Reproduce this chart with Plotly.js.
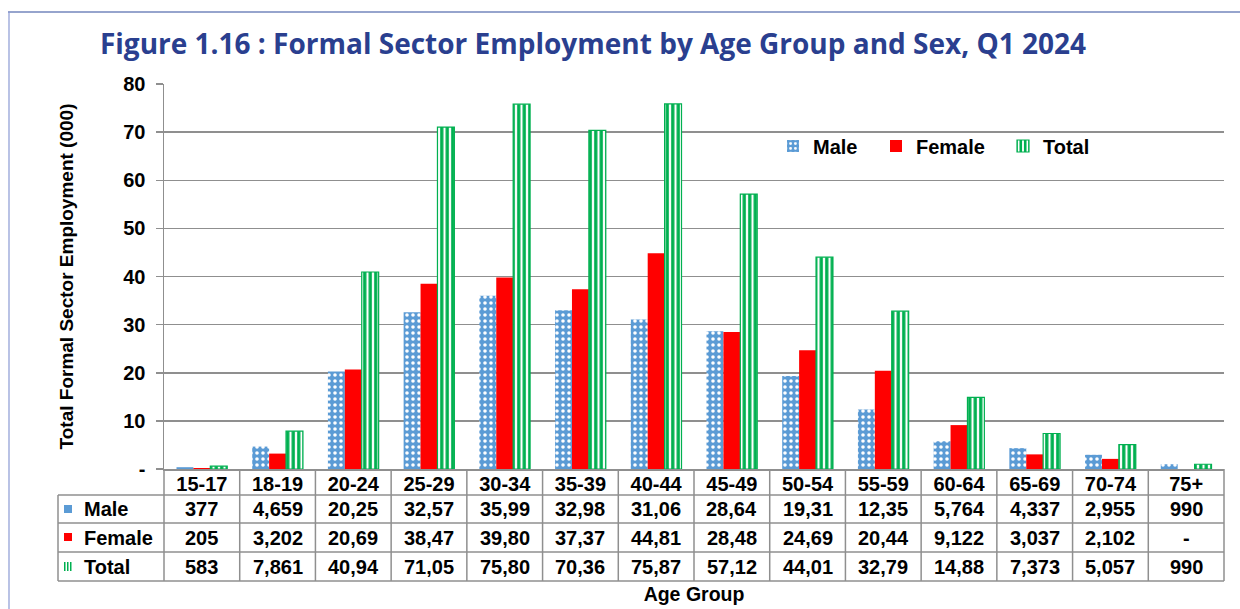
<!DOCTYPE html>
<html>
<head>
<meta charset="utf-8">
<script src="https://cdn.plot.ly/plotly-3.0.1.min.js"></script>
<style>html,body{margin:0;padding:0;background:#fff;}#chart{width:1240px;height:609px;}</style>
</head>
<body>
<div id="chart"></div>
<script>
// ---- data (thousands) ----
const ageGroups = ["15-17","18-19","20-24","25-29","30-34","35-39","40-44","45-49","50-54","55-59","60-64","65-69","70-74","75+"];
const maleValues   = [0.377, 4.659, 20.25, 32.57, 35.99, 32.98, 31.06, 28.64, 19.31, 12.35, 5.764, 4.337, 2.955, 0.990];
const femaleValues = [0.205, 3.202, 20.69, 38.47, 39.80, 37.37, 44.81, 28.48, 24.69, 20.44, 9.122, 3.037, 2.102, 0];
const totalValues  = [0.583, 7.861, 40.94, 71.05, 75.80, 70.36, 75.87, 57.12, 44.01, 32.79, 14.88, 7.373, 5.057, 0.990];
// ---- data table labels as printed ----
const maleLabels   = ["377","4,659","20,25","32,57","35,99","32,98","31,06","28,64","19,31","12,35","5,764","4,337","2,955","990"];
const femaleLabels = ["205","3,202","20,69","38,47","39,80","37,37","44,81","28,48","24,69","20,44","9,122","3,037","2,102","-"];
const totalLabels  = ["583","7,861","40,94","71,05","75,80","70,36","75,87","57,12","44,01","32,79","14,88","7,373","5,057","990"];
const seriesNames = ["Male","Female","Total"];
const yTickVals = [0,10,20,30,40,50,60,70,80];
const yTickText = ["-","10","20","30","40","50","60","70","80"];

// ---- geometry helpers (pixel -> paper) ----
const W = 1240, H = 609;
const L = 164, R = 1224, T = 84, B = 469;
const px = x => (x - L) / (R - L);
const py = y => (B - y) / (B - T);

const FONT = "Liberation Sans, Arial, Helvetica, sans-serif";
const GRID = "#8f8f8f";
const BLUE = "#5b9bd5", RED = "#ff0000", GREEN = "#00b050";
const xIdx = ageGroups.map((_, i) => i);
const TXT = 20;

const traces = [
  {type:"bar", name:seriesNames[0], x:xIdx, y:maleValues, legend:"legend",
   marker:{color:BLUE, line:{width:0}, pattern:{shape:".", fgcolor:"#ffffff", bgcolor:BLUE, size:6, solidity:0.28, fillmode:"replace"}},
   hovertemplate:"%{y}<extra>Male</extra>"},
  {type:"bar", name:seriesNames[1], x:xIdx, y:femaleValues, legend:"legend2",
   marker:{color:RED, line:{width:0}},
   hovertemplate:"%{y}<extra>Female</extra>"},
  {type:"bar", name:seriesNames[2], x:xIdx, y:totalValues, legend:"legend3",
   marker:{color:GREEN, line:{width:1.2, color:GREEN}, pattern:{shape:"|", fgcolor:GREEN, bgcolor:"#ffffff", size:5.5, solidity:0.6, fillmode:"replace"}},
   hovertemplate:"%{y}<extra>Total</extra>"}
];

const shapes = [];
const annotations = [];
const lineStyle = {color:GRID, width:1.5};
// horizontal table lines
[495, 523, 552, 581].forEach(y => shapes.push({type:"line", xref:"paper", yref:"paper", x0:px(58), x1:px(R), y0:py(y), y1:py(y), line:lineStyle, layer:"above"}));
// vertical table lines at category boundaries
for (let k = 0; k <= ageGroups.length; k++) {
  shapes.push({type:"line", xref:"paper", yref:"paper", x0:k/ageGroups.length, x1:k/ageGroups.length, y0:py(B), y1:py(581), line:lineStyle, layer:"above"});
}
shapes.push({type:"line", xref:"paper", yref:"paper", x0:px(58), x1:px(58), y0:py(495), y1:py(581), line:lineStyle});
// legend keys in table
shapes.push({type:"rect", xref:"paper", yref:"paper", x0:px(64), x1:px(72), y0:py(505), y1:py(513), fillcolor:BLUE, line:{width:0}});
shapes.push({type:"rect", xref:"paper", yref:"paper", x0:px(64), x1:px(72), y0:py(533), y1:py(541), fillcolor:RED, line:{width:0}});
[64, 67, 70].forEach(x => shapes.push({type:"rect", xref:"paper", yref:"paper", x0:px(x), x1:px(x+1.5), y0:py(562), y1:py(571), fillcolor:GREEN, line:{width:0}}));
// outer frame (blue, top and left)
shapes.push({type:"line", xref:"paper", yref:"paper", x0:px(8), x1:px(1240), y0:py(12), y1:py(12), line:{color:"#2f4a9c", width:1.2}});
shapes.push({type:"line", xref:"paper", yref:"paper", x0:px(9), x1:px(9), y0:py(12), y1:py(609), line:{color:"#8b9ad4", width:1.2}});

const rows = [[maleLabels, 509], [femaleLabels, 537.5], [totalLabels, 566.5]];
rows.forEach(([labels, yc], r) => {
  annotations.push({xref:"paper", yref:"paper", x:px(82), y:py(yc), xanchor:"left", yanchor:"middle", showarrow:false,
    text:seriesNames[r], font:{family:FONT, size:TXT, color:"#000", weight:"bold"}});
  labels.forEach((t, i) => annotations.push({xref:"x", yref:"paper", x:i, y:py(yc), xanchor:"center", yanchor:"middle", showarrow:false,
    text:t, font:{family:FONT, size:TXT, color:"#000", weight:"bold"}}));
});

const legendBase = {orientation:"h", yanchor:"middle", y:py(146), xanchor:"left", bgcolor:"rgba(0,0,0,0)",
  font:{family:FONT, size:TXT, color:"#000", weight:"bold"}, itemclick:false, itemdoubleclick:false};

const layout = {
  width:W, height:H,
  margin:{l:L, r:W-R, t:T, b:H-B, pad:0},
  paper_bgcolor:"#ffffff", plot_bgcolor:"#ffffff",
  font:{family:FONT, color:"#000"},
  title:{text:"Figure 1.16 : Formal Sector Employment by Age Group and Sex, Q1 2024",
    x:593/W, xanchor:"center", y:1-44/H, yanchor:"middle", xref:"container", yref:"container",
    font:{family:"Open Sans, sans-serif", size:28, color:"#2a3f8f", weight:"bold"}},
  barmode:"group", bargap:0.33, bargroupgap:0,
  xaxis:{type:"linear", range:[-0.5, ageGroups.length-0.5], tickvals:xIdx, ticktext:ageGroups,
    showgrid:false, zeroline:false, showline:true, linecolor:GRID, linewidth:1.5, ticks:"",
    ticklabelstandoff:-4,
    tickfont:{family:FONT, size:TXT, color:"#000", weight:"bold"}, fixedrange:true,
    title:{text:"Age Group", standoff:94, font:{family:FONT, size:19.5, color:"#000", weight:"bold"}}},
  yaxis:{range:[0,80], tickvals:yTickVals, ticktext:yTickText, showgrid:true, gridcolor:GRID, gridwidth:1.5,
    zeroline:false, showline:true, linecolor:GRID, linewidth:1.5, ticks:"outside", ticklen:7, tickcolor:GRID, tickwidth:1.5,
    ticklabelstandoff:6,
    tickfont:{family:FONT, size:TXT, color:"#000", weight:"bold"}, fixedrange:true,
    title:{text:"Total Formal Sector Employment (000)", standoff:44, font:{family:FONT, size:19, color:"#000", weight:"bold"}}},
  legend: Object.assign({}, legendBase, {x:px(773)}),
  legend2: Object.assign({}, legendBase, {x:px(876)}),
  legend3: Object.assign({}, legendBase, {x:px(1003)}),
  shapes:shapes, annotations:annotations, showlegend:true
};

Plotly.newPlot("chart", traces, layout, {displayModeBar:false, staticPlot:true});
</script>
</body>
</html>
